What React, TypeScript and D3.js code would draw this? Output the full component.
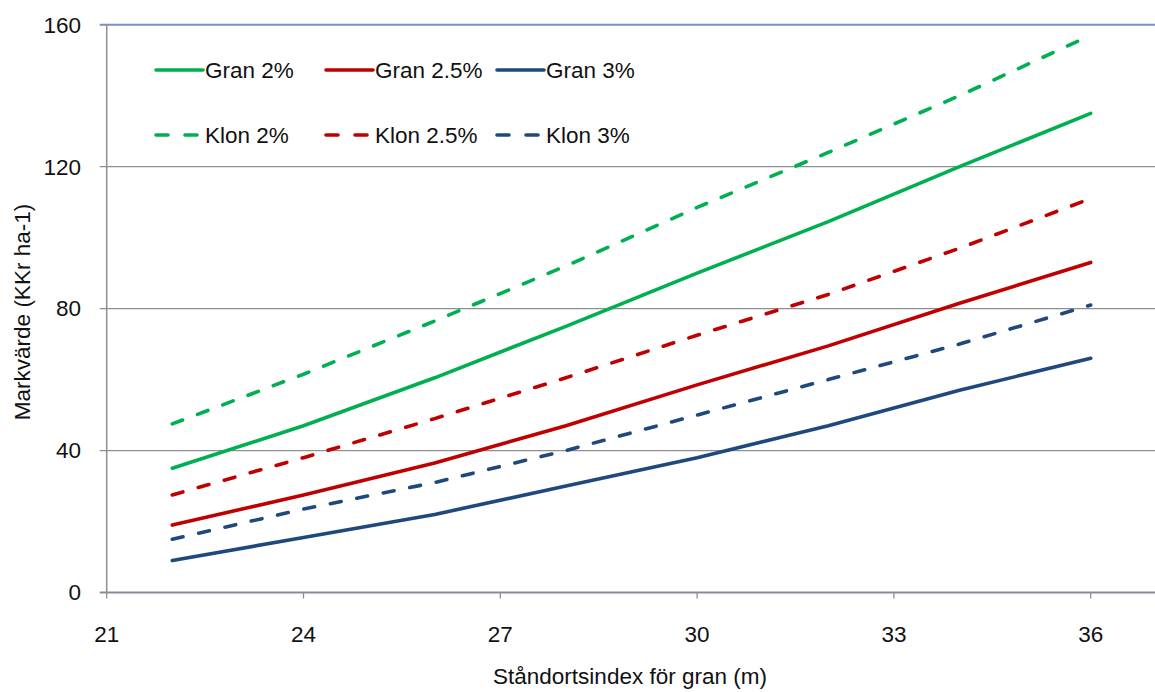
import React from "react";
import * as d3 from "d3";

const xValues = [22, 24, 26, 28, 30, 32, 34, 36];
const gran2 = [35, 47, 60.5, 75, 90, 104.5, 120, 135];
const gran25 = [19, 27.5, 36.5, 47, 58.5, 69.5, 81.5, 93];
const gran3 = [9, 15.5, 22, 30, 38, 47, 57, 66];
const klon2 = [47.5, 61.5, 76.5, 92, 108.5, 124, 140, 157];
const klon25 = [27.5, 38, 49, 60.5, 72.5, 84, 97, 111];
const klon3 = [15, 23.5, 31, 40, 50, 60, 70, 81];
const xTicks = [21, 24, 27, 30, 33, 36];
const yTicks = [0, 40, 80, 120, 160];

const series = [
  { name: "Gran 2%", values: gran2, color: "#00b050", dashed: false },
  { name: "Gran 2.5%", values: gran25, color: "#c00000", dashed: false },
  { name: "Gran 3%", values: gran3, color: "#1f497d", dashed: false },
  { name: "Klon 2%", values: klon2, color: "#00b050", dashed: true },
  { name: "Klon 2.5%", values: klon25, color: "#c00000", dashed: true },
  { name: "Klon 3%", values: klon3, color: "#1f497d", dashed: true },
];

const W = 1155;
const H = 692;
const left = 106.7;
const right = 1156.3;
const top = 24.7;
const bottom = 592.5;
const font = "'Liberation Sans', Arial, sans-serif";
const fs = 22.5;

export default function App() {
  const x = d3.scaleLinear().domain([21, 37]).range([left, right]);
  const y = d3.scaleLinear().domain([0, 160]).range([bottom, top]);
  const line = d3
    .line<number>()
    .x((_, i) => x(xValues[i]))
    .y((d) => y(d));

  const legendX = [156, 326, 497];
  const legendY = [70, 135];

  return (
    <svg
      width={W}
      height={H}
      style={{ position: "absolute", left: 0, top: 0, background: "#fff" }}
    >
      {yTicks.map((t) => (
        <line
          key={"g" + t}
          x1={left - 7}
          x2={W}
          y1={y(t)}
          y2={y(t)}
          stroke={t === 160 ? "#7393c4" : t === 0 ? "#868d96" : "#8f8f8f"}
          strokeWidth={t === 160 ? 2 : t === 0 ? 2 : 1.3}
        />
      ))}
      <line x1={left} x2={left} y1={top} y2={bottom} stroke="#8f8f8f" strokeWidth={1.5} />
      {xTicks.map((t) => (
        <line
          key={"xt" + t}
          x1={x(t)}
          x2={x(t)}
          y1={bottom}
          y2={bottom + 6}
          stroke="#8f8f8f"
          strokeWidth={1.3}
        />
      ))}
      {yTicks.map((t) => (
        <text
          key={"yl" + t}
          x={81}
          y={y(t)}
          dy="0.35em"
          textAnchor="end"
          fontFamily={font}
          fontSize={fs}
          fill="#111"
        >
          {t}
        </text>
      ))}
      {xTicks.map((t) => (
        <text
          key={"xl" + t}
          x={x(t)}
          y={634}
          dy="0.35em"
          textAnchor="middle"
          fontFamily={font}
          fontSize={fs}
          fill="#111"
        >
          {t}
        </text>
      ))}
      <text
        x={630}
        y={676}
        dy="0.35em"
        textAnchor="middle"
        fontFamily={font}
        fontSize={fs}
        fill="#111"
      >
        Ståndortsindex för gran (m)
      </text>
      <text
        transform={`translate(22,${312}) rotate(-90)`}
        dy="0.35em"
        textAnchor="middle"
        fontFamily={font}
        fontSize={fs}
        fill="#111"
      >
        Markvärde (KKr ha-1)
      </text>
      {series.map((s) => (
        <path
          key={s.name}
          d={line(s.values) || ""}
          fill="none"
          stroke={s.color}
          strokeWidth={3.6}
          strokeLinecap="round"
          strokeLinejoin="round"
          strokeDasharray={s.dashed ? "11 16" : undefined}
        />
      ))}
      {series.map((s, i) => {
        const lx = legendX[i % 3];
        const ly = legendY[Math.floor(i / 3)];
        return (
          <g key={"lg" + s.name}>
            <line
              x1={lx}
              x2={lx + (s.dashed ? 44 : 47)}
              y1={ly}
              y2={ly}
              stroke={s.color}
              strokeWidth={3.6}
              strokeLinecap="round"
              strokeDasharray={s.dashed ? "12 17" : undefined}
            />
            <text
              x={lx + 49}
              y={ly}
              dy="0.35em"
              fontFamily={font}
              fontSize={fs}
              fill="#111"
            >
              {s.name}
            </text>
          </g>
        );
      })}
    </svg>
  );
}
